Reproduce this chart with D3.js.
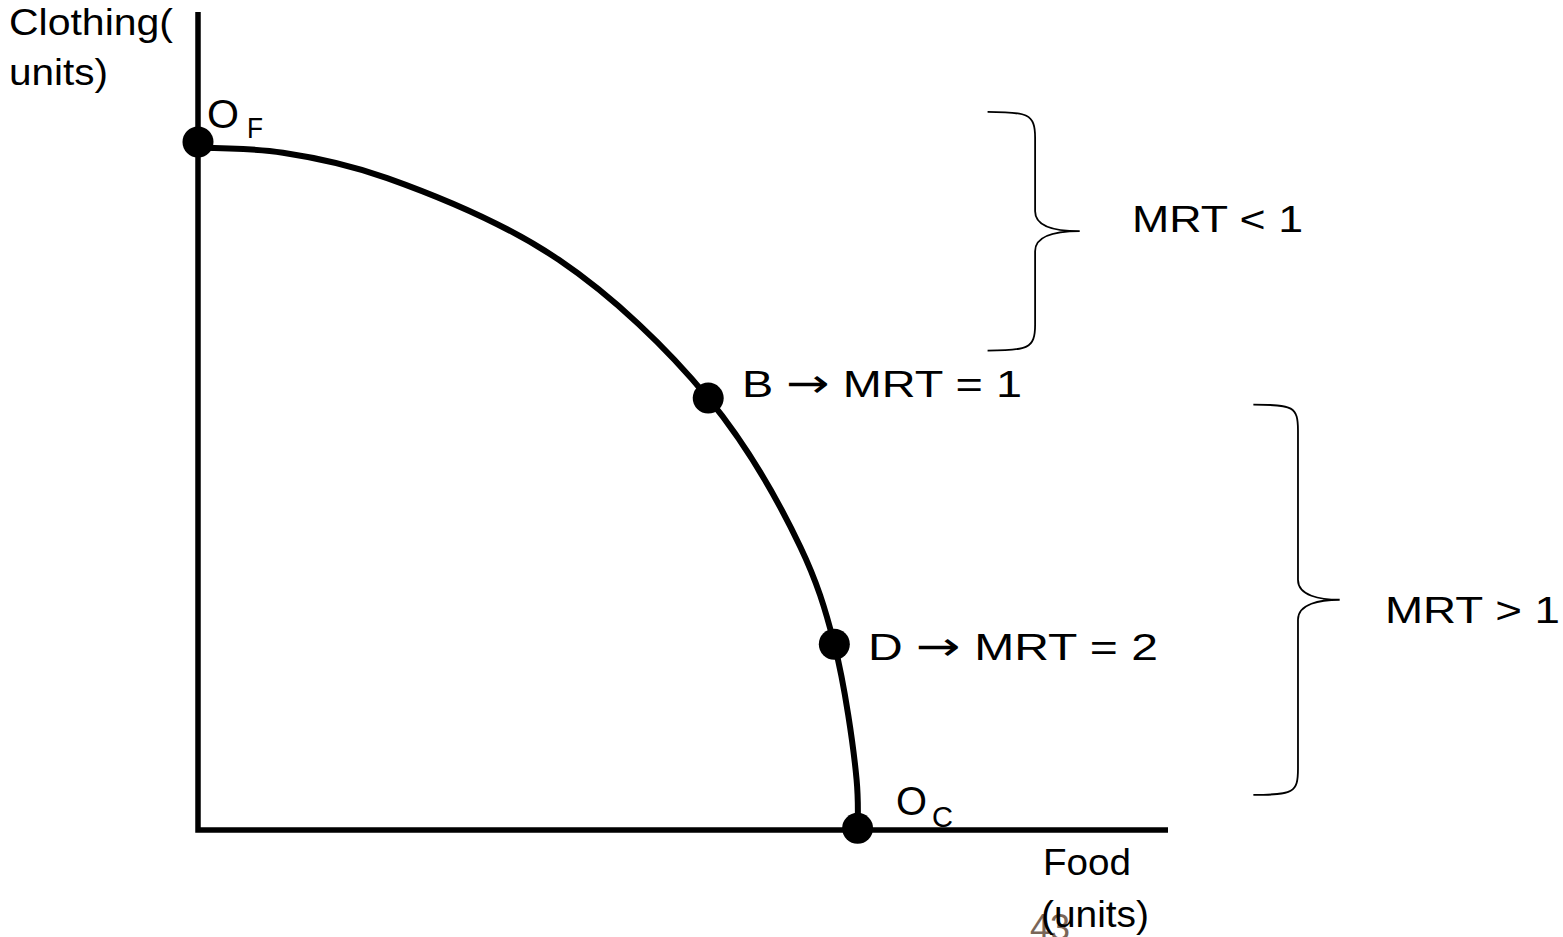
<!DOCTYPE html>
<html>
<head>
<meta charset="utf-8">
<script src="https://cdn.jsdelivr.net/npm/d3@7"></script>
<style>
  html, body { margin: 0; padding: 0; background: #fff; }
  svg { display: block; }
  text { font-family: "Liberation Sans", Arial, sans-serif; fill: #000; }
</style>
</head>
<body>
<svg id="chart" width="1563" height="937"></svg>
<script>
// production possibilities frontier (food, clothing units)
const curveFood     = [0, 8.76, 19.5, 37.2, 52.6, 62.1, 65.6, 67.9, 68.0];
const curveClothing = [83.4, 82.8, 79.7, 69.7, 52.8, 34.6, 22.7, 6.1, 0.2];

// marked points
const pointNames    = ["OF", "B", "D", "OC"];
const pointFood     = [0, 52.6, 65.6, 68.0];
const pointClothing = [84.1, 52.8, 22.7, 0.2];

// braces: [tip, spine, cusp] food values and [top, bottom] clothing values
const braceLabels   = ["MRT < 1", "MRT > 1"];
const braceFood     = [[81.4, 86.3, 90.9], [108.8, 113.4, 117.7]];
const braceClothing = [[87.8, 58.6], [52.0, 4.3]];

const svg = d3.select("#chart");

const x = d3.scaleLinear().domain([0, 100]).range([198, 1168]);
const y = d3.scaleLinear().domain([0, 100]).range([830, 12]);

// axes (plain lines, no ticks)
svg.append("path")
  .attr("d", `M${x(0)},${y(100)} L${x(0)},${y(0)} L${x(100)},${y(0)}`)
  .attr("fill", "none")
  .attr("stroke", "#000")
  .attr("stroke-width", 5.5)
  .attr("stroke-linejoin", "miter");

// frontier
const pts = curveFood.map((f, i) => [f, curveClothing[i]]);
const line = d3.line()
  .x(d => x(d[0]))
  .y(d => y(d[1]))
  .curve(d3.curveCatmullRom.alpha(0.5));

svg.append("path")
  .datum(pts)
  .attr("d", line)
  .attr("fill", "none")
  .attr("stroke", "#000")
  .attr("stroke-width", 6);

svg.selectAll(".dot")
  .data(pointNames)
  .enter().append("circle")
  .attr("class", "dot")
  .attr("cx", (d, i) => x(pointFood[i]))
  .attr("cy", (d, i) => y(pointClothing[i]))
  .attr("r", 15.5)
  .attr("fill", "#000");

// braces
function bracePath(f, c) {
  const tip = x(f[0]), spine = x(f[1]), cusp = x(f[2]);
  const top = y(c[0]), bot = y(c[1]), mid = (top + bot) / 2;
  return `M${tip},${top}` +
    ` C${tip + 40},${top} ${spine},${top + 2} ${spine},${top + 26}` +
    ` L${spine},${mid - 20}` +
    ` C${spine},${mid - 4} ${spine + 22},${mid} ${cusp},${mid}` +
    ` C${spine + 22},${mid} ${spine},${mid + 4} ${spine},${mid + 20}` +
    ` L${spine},${bot - 26}` +
    ` C${spine},${bot - 2} ${tip + 40},${bot} ${tip},${bot}`;
}

svg.selectAll(".brace")
  .data(braceLabels)
  .enter().append("path")
  .attr("class", "brace")
  .attr("d", (d, i) => bracePath(braceFood[i], braceClothing[i]))
  .attr("fill", "none")
  .attr("stroke", "#000")
  .attr("stroke-width", 1.8);

// text labels (the source is stretched horizontally, so textLength is used)
function label(str, px, py, size, width, color) {
  return svg.append("text")
    .attr("x", px)
    .attr("y", py)
    .attr("font-size", size)
    .attr("textLength", width)
    .attr("lengthAdjust", "spacingAndGlyphs")
    .style("fill", color || "#000")
    .text(str);
}

// "B -> MRT = 1" style labels with a bigger arrow glyph
function arrowLabel(head, tail, px, py, width) {
  const t = svg.append("text")
    .attr("x", px)
    .attr("y", py)
    .attr("font-size", 36)
    .attr("textLength", width)
    .attr("lengthAdjust", "spacingAndGlyphs");
  t.append("tspan").text(head + " ");
  t.append("tspan")
    .style("font-family", "'DejaVu Sans', sans-serif")
    .attr("font-size", 40)
    .text("\u2192");
  t.append("tspan").text(" " + tail);
}

label("Clothing(", 9, 35, 36, 164);
label("units)", 9, 85, 36, 99);

label("O", 207, 128, 40, 32);
label("F", 247, 138, 29, 16);
label("O", 896, 815, 40, 31);
label("C", 932, 827, 29, 21);

arrowLabel("B", "MRT = 1", 742, 397, 280);
arrowLabel("D", "MRT = 2", 868, 660, 290);

label(braceLabels[0], 1132, 232, 36, 171);
label(braceLabels[1], 1385, 623, 36, 175);

label("43", 1030, 940, 37, 40, "#7a6658");
label("Food", 1043, 875, 36, 88);
label("(units)", 1041, 927, 36, 108);
</script>
</body>
</html>
